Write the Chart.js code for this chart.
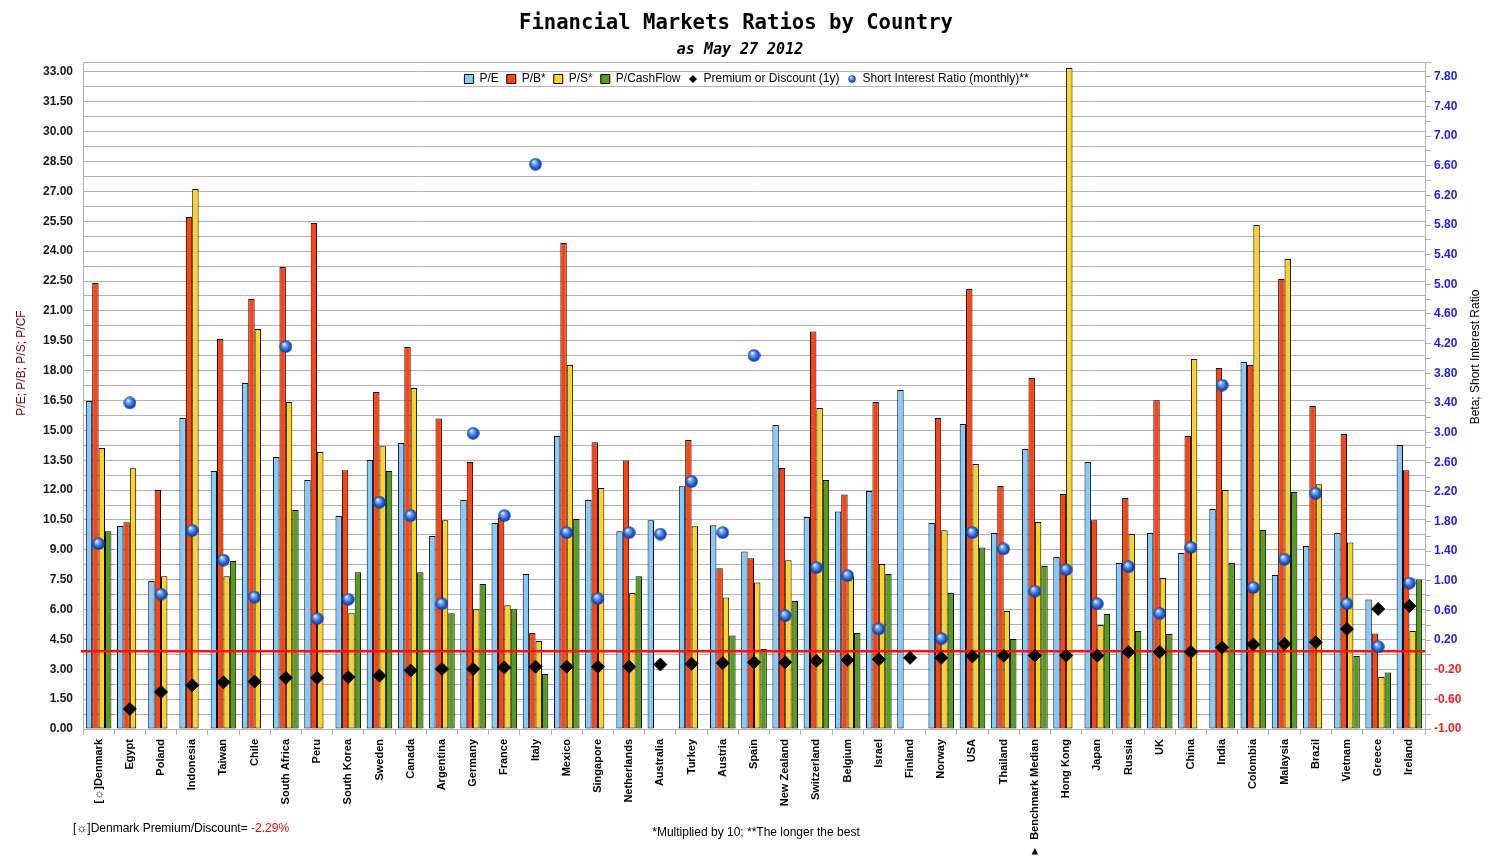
<!DOCTYPE html>
<html>
<head>
<meta charset="utf-8">
<title>Financial Markets Ratios by Country</title>
<script src="https://cdn.jsdelivr.net/npm/chart.js@4.4.1/dist/chart.umd.min.js"></script>
<style>
  html, body { margin: 0; padding: 0; background: #ffffff; }
  #wrap { width: 1493px; height: 856px; position: relative; }
</style>
</head>
<body>
<div id="wrap"><canvas id="ratiosChart"></canvas></div>
<script>
const COUNTRIES = [
  "[\u263C]Denmark", "Egypt", "Poland", "Indonesia", "Taiwan", "Chile", "South Africa", "Peru",
  "South Korea", "Sweden", "Canada", "Argentina", "Germany", "France", "Italy", "Mexico",
  "Singapore", "Netherlands", "Australia", "Turkey", "Austria", "Spain", "New Zealand",
  "Switzerland", "Belgium", "Israel", "Finland", "Norway", "USA", "Thailand",
  "\u25BA  Benchmark Median", "Hong Kong", "Japan", "Russia", "UK", "China", "India",
  "Colombia", "Malaysia", "Brazil", "Vietnam", "Greece", "Ireland"
];

const PE = [16.47, 10.2, 7.43, 15.62, 12.96, 17.38, 13.66, 12.5, 10.7, 13.51, 14.37, 9.69, 11.5, 10.35, 7.79, 14.72,
  11.5, 9.93, 10.48, 12.19, 10.23, 8.92, 15.27, 10.65, 10.93, 11.95, 17.03, 10.35, 15.32, 9.84,
  14.06, 8.64, 13.41, 8.34, 9.84, 8.84, 11.05, 18.43, 7.73, 9.19, 9.84, 6.51, 14.26];

const PB = [22.4, 10.38, 12.0, 25.72, 19.59, 21.6, 23.2, 25.42, 13.0, 16.93, 19.19, 15.6, 13.41, 10.6, 4.82, 24.41,
  14.4, 13.49, null, 14.52, 8.07, 8.57, 13.11, 19.97, 11.78, 16.42, null, 15.62, 22.1, 12.2,
  17.63, 11.8, 10.48, 11.6, 16.51, 14.72, 18.13, 18.28, 22.6, 16.22, 14.82, 4.8, 13.0];

const PS = [14.11, 13.1, 7.67, 27.12, 7.67, 20.09, 16.42, 13.91, 5.81, 14.2, 17.13, 10.48, 6.01, 6.21, 4.42, 18.28,
  12.1, 6.83, null, 10.18, 6.61, 7.36, 8.47, 16.12, 7.67, 8.29, null, 9.98, 13.31, 5.93,
  10.4, 33.2, 5.22, 9.79, 7.58, 18.58, 12.0, 25.31, 23.6, 12.29, 9.37, 2.61, 4.92];

const PCF = [9.93, null, null, null, 8.44, null, 11.0, null, 7.87, 12.96, 7.87, 5.81, 7.28, 6.01, 2.76, 10.55,
  null, 7.67, null, null, 4.7, 4.02, 6.43, 12.5, 4.82, 7.79, null, 6.83, 9.12, 4.52,
  8.19, null, 5.78, 4.92, 4.77, null, 8.34, 10.0, 11.9, null, 3.67, 2.84, 7.51];

const PREMIUM = [null, -0.73, -0.5, -0.41, -0.37, -0.36, -0.31, -0.31, -0.3, -0.28, -0.21, -0.19, -0.19, -0.17, -0.16, -0.16,
  -0.16, -0.16, -0.13, -0.12, -0.11, -0.1, -0.1, -0.08, -0.07, -0.06, -0.04, -0.04, -0.02, -0.01,
  -0.01, -0.01, -0.01, 0.04, 0.04, 0.04, 0.1, 0.14, 0.15, 0.17, 0.35, 0.62, 0.66];

const SHORT_INTEREST = [1.5, 3.4, 0.82, 1.68, 1.28, 0.78, 4.16, 0.49, 0.75, 2.06, 1.88, 0.69, 2.99, 1.88, 6.62, 1.65,
  0.76, 1.65, 1.63, 2.34, 1.65, 4.04, 0.53, 1.18, 1.07, 0.35, null, 0.22, 1.65, 1.43,
  0.86, 1.15, 0.69, 1.19, 0.56, 1.45, 3.64, 0.91, 1.29, 2.18, 0.69, 0.11, 0.97];

const DENMARK_LEVEL = 0.05;
const DENMARK_PREMIUM_TEXT = "-2.29%";

const LEFT_MAX = 33.5;
const LEFT_STEP = 0.75;
const LEFT_LABEL_STEP = 1.5;
const RIGHT_MIN = -1;
const RIGHT_MAX = 8;
const RIGHT_STEP = 0.2;
const RIGHT_LABEL_STEP = 0.4;

const COLORS = {
  PE: "#83caff",
  PB: "#ff420e",
  PS: "#ffd320",
  PCF: "#579d1c",
  GRID: "#b3b3b3",
  RED_LINE: "#ff1010",
  LEFT_TITLE: "#800000",
  RIGHT_TICK: "#1a1aff",
  NEG_TICK: "#ff1a1a"
};

const NARROW = "'Liberation Sans Narrow', 'Liberation Sans', Arial, sans-serif";
const SANS = "'Liberation Sans', Arial, sans-serif";

function makeSphere(d) {
  const c = document.createElement("canvas");
  c.width = d;
  c.height = d;
  const g = c.getContext("2d");
  const r = d / 2;
  const grad = g.createRadialGradient(r * 0.7, r * 0.6, r * 0.05, r, r, r);
  grad.addColorStop(0, "#ffffff");
  grad.addColorStop(0.25, "#7fb0ff");
  grad.addColorStop(0.65, "#2462d8");
  grad.addColorStop(1, "#0c2d85");
  g.fillStyle = grad;
  g.beginPath();
  g.arc(r, r, r - 0.3, 0, Math.PI * 2);
  g.fill();
  return c;
}

function makeDiamond(d) {
  const c = document.createElement("canvas");
  c.width = d;
  c.height = d;
  const g = c.getContext("2d");
  const r = d / 2;
  g.fillStyle = "#000000";
  g.beginPath();
  g.moveTo(r, 0);
  g.lineTo(d, r);
  g.lineTo(r, d);
  g.lineTo(0, r);
  g.closePath();
  g.fill();
  return c;
}

const SPHERE = makeSphere(13);
const SPHERE_SMALL = makeSphere(8);
const DIAMOND_SMALL = makeDiamond(8);

function buildTicks(min, max, step) {
  const ticks = [];
  const n = Math.floor((max - min) / step + 1e-6);
  for (let i = 0; i <= n; i++) {
    ticks.push(Math.round((min + i * step) * 1000) / 1000);
  }
  if (ticks[ticks.length - 1] < max - 1e-6) {
    ticks.push(max);
  }
  return ticks;
}

function isMultiple(v, base, step) {
  const k = (v - base) / step;
  return Math.abs(k - Math.round(k)) < 1e-6;
}

const LEFT_TICKS = buildTicks(0, LEFT_MAX, LEFT_STEP);
const RIGHT_TICKS = buildTicks(RIGHT_MIN, RIGHT_MAX, RIGHT_STEP);

function barSet(label, data, color) {
  return {
    type: "bar",
    label: label,
    data: data,
    backgroundColor: color,
    borderColor: "#000000",
    borderWidth: 1,
    borderSkipped: false,
    categoryPercentage: 0.82,
    barPercentage: 1.0,
    yAxisID: "y",
    order: 2,
    legendIcon: "rect",
    legendFill: color
  };
}

// red reference line is drawn right after the bars, under the markers
const refLinePlugin = {
  id: "refLine",
  afterDatasetDraw(chart, args) {
    if (args.index !== 0) {
      return;
    }
    const area = chart.chartArea;
    const y = chart.scales.y1.getPixelForValue(DENMARK_LEVEL);
    const ctx = chart.ctx;
    ctx.save();
    ctx.strokeStyle = COLORS.RED_LINE;
    ctx.lineWidth = 2.5;
    ctx.beginPath();
    ctx.moveTo(area.left - 2, y);
    ctx.lineTo(area.right, y);
    ctx.stroke();
    ctx.restore();
  }
};

// legend sits inside the plot, just under the top border
const legendMovePlugin = {
  id: "legendMove",
  afterLayout(chart) {
    const legend = chart.legend;
    if (!legend) {
      return;
    }
    const h = legend.height;
    legend.top = chart.chartArea.top + 3;
    legend.bottom = legend.top + h;
  }
};

const textPlugin = {
  id: "texts",
  afterDraw(chart) {
    const ctx = chart.ctx;
    ctx.save();
    ctx.textBaseline = "middle";
    ctx.textAlign = "center";
    ctx.fillStyle = "#000000";
    ctx.font = "bold 20.6px 'DejaVu Sans Mono', monospace";
    ctx.fillText("Financial Markets Ratios by Country", 736, 24);
    ctx.font = "italic bold 15px 'DejaVu Sans Mono', monospace";
    ctx.fillText("as May 27 2012", 740, 50);

    ctx.font = "12px " + SANS;
    ctx.save();
    ctx.translate(22, 363);
    ctx.rotate(-Math.PI / 2);
    ctx.fillStyle = COLORS.LEFT_TITLE;
    ctx.fillText("P/E; P/B; P/S; P/CF", 0, 0);
    ctx.restore();

    ctx.save();
    ctx.translate(1476, 357);
    ctx.rotate(-Math.PI / 2);
    ctx.fillStyle = "#000000";
    ctx.fillText("Beta; Short Interest Ratio", 0, 0);
    ctx.restore();

    ctx.fillText("*Multiplied by 10; **The longer the best", 756, 833);

    ctx.textAlign = "left";
    const note = "[\u263C]Denmark Premium/Discount= ";
    ctx.fillText(note, 73, 829);
    const w = ctx.measureText(note).width;
    ctx.fillStyle = "#ff0000";
    ctx.fillText(DENMARK_PREMIUM_TEXT, 73 + w, 829);
    ctx.restore();
  }
};

const ctx = document.getElementById("ratiosChart");

new Chart(ctx.getContext("2d"), {
  type: "bar",
  data: {
    labels: COUNTRIES,
    datasets: [
      barSet("P/E", PE, COLORS.PE),
      barSet("P/B*", PB, COLORS.PB),
      barSet("P/S*", PS, COLORS.PS),
      barSet("P/CashFlow", PCF, COLORS.PCF),
      {
        type: "line",
        label: "Premium or Discount (1y)",
        data: PREMIUM,
        showLine: false,
        pointStyle: "rectRot",
        pointRadius: 6.5,
        pointBackgroundColor: "#000000",
        pointBorderColor: "#000000",
        pointBorderWidth: 1,
        yAxisID: "y1",
        order: 1,
        legendIcon: DIAMOND_SMALL,
        legendFill: "#000000"
      },
      {
        type: "line",
        label: "Short Interest Ratio (monthly)**",
        data: SHORT_INTEREST,
        showLine: false,
        pointStyle: SPHERE,
        pointRadius: 6,
        yAxisID: "y1",
        order: 1,
        legendIcon: SPHERE_SMALL,
        legendFill: "#2462d8"
      }
    ]
  },
  options: {
    responsive: true,
    maintainAspectRatio: false,
    animation: false,
    devicePixelRatio: 1,
    events: [],
    layout: {
      padding: { top: 32, left: 0, right: 0, bottom: 0 }
    },
    plugins: {
      title: { display: false },
      tooltip: { enabled: false },
      legend: {
        display: true,
        position: "top",
        align: "center",
        labels: {
          usePointStyle: true,
          boxWidth: 9,
          boxHeight: 9,
          padding: 8,
          color: "#000000",
          font: { family: SANS, size: 12 },
          generateLabels(chart) {
            return chart.data.datasets.map((ds, i) => ({
              text: ds.label,
              fillStyle: ds.legendFill,
              strokeStyle: "#000000",
              lineWidth: ds.type === "bar" ? 1 : 0,
              pointStyle: ds.legendIcon,
              hidden: false,
              datasetIndex: i
            }));
          }
        }
      }
    },
    scales: {
      x: {
        type: "category",
        offset: true,
        grid: {
          offset: true,
          drawOnChartArea: false,
          drawTicks: true,
          tickLength: 6,
          color: COLORS.GRID
        },
        border: { color: COLORS.GRID },
        ticks: {
          autoSkip: false,
          maxRotation: 90,
          minRotation: 90,
          padding: 4,
          color: "#000000",
          font: { family: NARROW, size: 11, weight: "bold" }
        },
        afterFit(scale) {
          scale.height = 127;
        }
      },
      y: {
        position: "left",
        min: 0,
        max: LEFT_MAX,
        afterBuildTicks(scale) {
          scale.ticks = LEFT_TICKS.map((v) => ({ value: v }));
        },
        grid: { color: COLORS.GRID, drawTicks: false },
        border: { color: COLORS.GRID },
        ticks: {
          autoSkip: false,
          padding: 10,
          color: "#1a1a1a",
          font: { family: NARROW, size: 12, weight: "bold" },
          callback(value) {
            if (value > 33.01 || !isMultiple(value, 0, LEFT_LABEL_STEP)) {
              return "";
            }
            return value.toFixed(2);
          }
        },
        afterFit(scale) {
          scale.width = 83;
        }
      },
      y1: {
        position: "right",
        min: RIGHT_MIN,
        max: RIGHT_MAX,
        afterBuildTicks(scale) {
          scale.ticks = RIGHT_TICKS.map((v) => ({ value: v }));
        },
        grid: {
          drawOnChartArea: false,
          drawTicks: true,
          tickLength: 6,
          color: COLORS.GRID
        },
        border: { color: COLORS.GRID },
        ticks: {
          autoSkip: false,
          padding: 3,
          font: { family: NARROW, size: 12, weight: "bold" },
          color(context) {
            return context.tick && context.tick.value < 0 ? COLORS.NEG_TICK : COLORS.RIGHT_TICK;
          },
          callback(value) {
            if (value > 7.81 || !isMultiple(value, RIGHT_MIN, RIGHT_LABEL_STEP)) {
              return "";
            }
            return value.toFixed(2);
          }
        },
        afterFit(scale) {
          scale.width = 68;
        }
      }
    }
  },
  plugins: [refLinePlugin, legendMovePlugin, textPlugin]
});
</script>
</body>
</html>
